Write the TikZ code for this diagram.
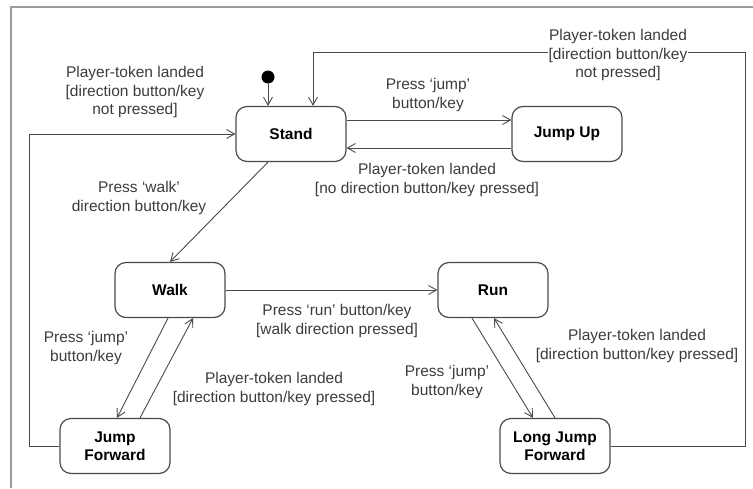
\documentclass[tikz,border=0pt]{standalone}
\usepackage{fontspec}
\setmainfont{Liberation Sans}
\usepackage{tikz}
\usetikzlibrary{arrows.meta}
\usetikzlibrary{calc,positioning}

\definecolor{linegray}{HTML}{4A4A4A}
\definecolor{framegray}{HTML}{9C9C9C}
\definecolor{textgray}{HTML}{3C3C3C}

\begin{document}
\begin{tikzpicture}[x=1pt, y=-1pt, font=\fontsize{15.5}{18.5}\selectfont,
    state/.style={draw=linegray, line width=1.2pt, rounded corners=11pt, minimum width=110pt, minimum height=55pt, align=center, font=\fontsize{15.5}{18.5}\selectfont\bfseries},
    trans/.style={draw=linegray, line width=0.9pt, -{Straight Barb[length=8pt, width=9pt]}},
    lbl/.style={align=center, text=textgray, inner sep=1pt}]
    \useasboundingbox (0,0) rectangle (753,488);
    \draw [framegray, line width=2pt] (11,488) -- (11,7) -- (753,7);

    \node [state] (stand) at (291,134) {Stand};
    \node [state] (jumpup) at (567,134) {Jump Up};
    \node [state] (walk) at (170,290) {Walk};
    \node [state] (run) at (493,290) {Run};
    \node [state] (jumpfwd) at (115,446) {Jump\\Forward};
    \node [state] (longjump) at (555,446) {Long Jump\\Forward};
    \node [circle, fill=black, inner sep=0pt, minimum size=13pt] (init) at (268,77) {};
    \coordinate (leftcorner) at (29,134);
    \coordinate (topright) at (745,52);
    \coordinate (topleft) at (313,52);

    \draw [trans] (init) -- (init |- stand.north);
    \draw [trans] ([yshift=14pt]stand.east) -- ([yshift=14pt]jumpup.west);
    \draw [trans] ([yshift=-14pt]jumpup.west) -- ([yshift=-14pt]stand.east);
    \draw [trans] (longjump.east) -| (topright) -- node [lbl, fill=white, pos=0.294, yshift=-3pt] (lblout) {Player-token landed\\{}[direction button/key\\not pressed]} (topleft) -- (topleft |- stand.north);
    \draw [trans] (jumpfwd.west) -| (leftcorner) -- (stand.west);
    \draw [trans] ([xshift=-23pt]stand.south) -- (walk.north);
    \draw [trans] (walk) -- (run);
    \draw [trans] ([xshift=-2pt]walk.south) -- ([xshift=2pt]jumpfwd.north);
    \draw [trans] ([xshift=25pt]jumpfwd.north) -- ([xshift=23pt]walk.south);
    \draw [trans] ([xshift=-21pt]run.south) -- ([xshift=-22pt]longjump.north);
    \draw [trans] (longjump.north) -- ([xshift=1pt]run.south);

    \node [lbl] (lblback) at (135,92) {Player-token landed\\{}[direction button/key\\not pressed]};
    \node [lbl] (lbljumpup) at (428,95) {Press `jump'\\button/key};
    \node [lbl] (lblland) at (427,180) {Player-token landed\\{}[no direction button/key pressed]};
    \node [lbl] (lblwalk) at (139,198) {Press `walk'\\direction button/key};
    \node [lbl] (lblrun) at (337,321) {Press `run' button/key\\{}[walk direction pressed]};
    \node [lbl] (lbljumpfwd) at (86,348) {Press `jump'\\button/key};
    \node [lbl] (lblwalkback) at (274,389) {Player-token landed\\{}[direction button/key pressed]};
    \node [lbl] (lbllongjump) at (447,382) {Press `jump'\\button/key};
    \node [lbl] (lblrunback) at (637,346) {Player-token landed\\{}[direction button/key pressed]};
\end{tikzpicture}
\end{document}
